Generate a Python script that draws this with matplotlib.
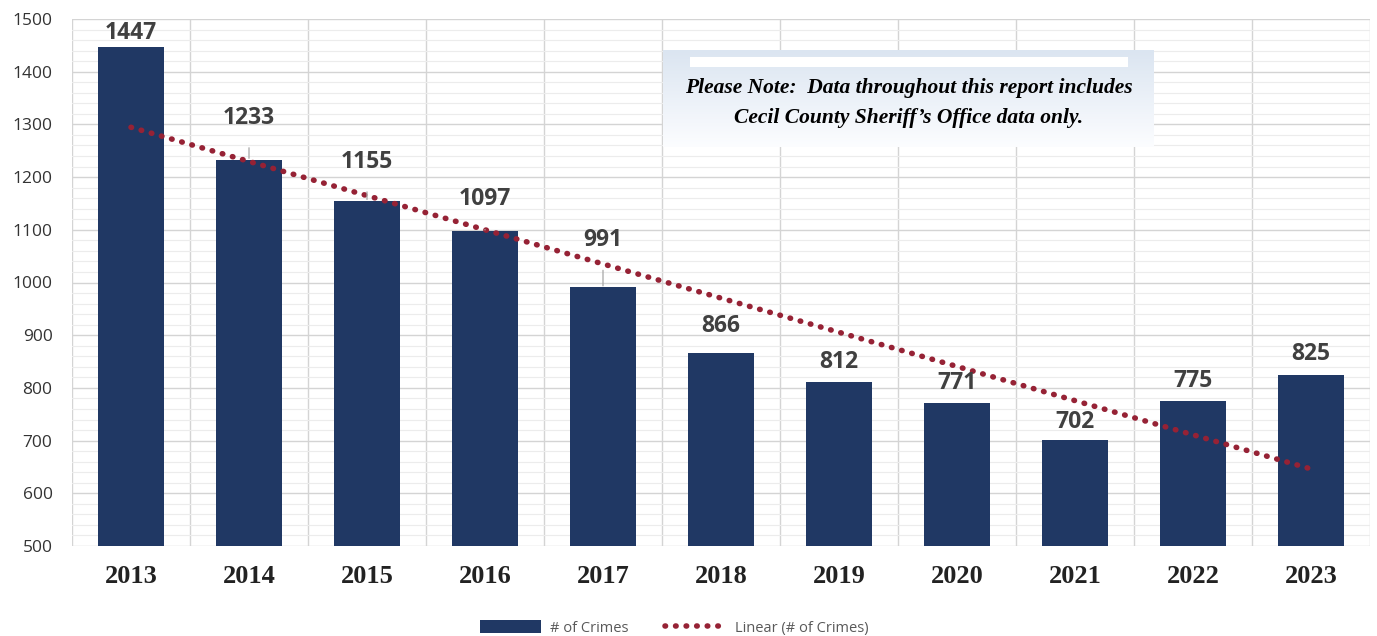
import numpy as np
import matplotlib.pyplot as plt
from matplotlib.patches import Rectangle

# values
years = ["2013", "2014", "2015", "2016", "2017", "2018", "2019", "2020", "2021", "2022", "2023"]
crimes = [1447, 1233, 1155, 1097, 991, 866, 812, 771, 702, 775, 825]
y_ticks = [500, 600, 700, 800, 900, 1000, 1100, 1200, 1300, 1400, 1500]

# how far each data label sits above its bar (pixels) - some were pushed up
label_lift = [14, 42, 39, 32, 47, 27, 20, 20, 18, 20, 21]

bar_color = "#203864"
trend_color = "#962235"
label_color = "#404040"

fig = plt.figure(figsize=(13.77, 6.36), dpi=100)
ax = fig.add_axes([72 / 1377, 1 - 546 / 636, 1298 / 1377, 527 / 636])

x = np.arange(len(years))
bars = ax.bar(x, crimes, width=0.56, color=bar_color, zorder=3, label="# of Crimes")

# linear trendline as Excel draws it
slope, intercept = np.polyfit(x, crimes, 1)
trend, = ax.plot(x, slope * x + intercept, color=trend_color, lw=4.0,
                 linestyle=(0, (0.1, 1.8)), dash_capstyle="round", zorder=4,
                 label="Linear (# of Crimes)")

for i, v in enumerate(crimes):
    lift = label_lift[i]
    arrow = None
    if lift > 30:
        arrow = dict(arrowstyle="-", color="#a6a6a6", lw=0.9, shrinkA=11, shrinkB=1)
    ax.annotate(str(v), xy=(i, v), xytext=(0, lift), textcoords="offset pixels",
                ha="center", va="center", fontsize=16.5, fontweight="bold",
                family="Open Sans", color=label_color, zorder=5, arrowprops=arrow)

ax.set_xlim(-0.5, len(years) - 0.5)
ax.set_ylim(500, 1500)
ax.set_yticks(y_ticks)
ax.set_yticks(np.arange(500, 1501, 20), minor=True)
ax.set_xticks(x)
ax.set_xticklabels(years, family="Liberation Serif", fontweight="bold",
                   fontsize=19, color="#222222")
for lab in ax.get_yticklabels():
    lab.set_family("Open Sans")
    lab.set_fontsize(12.5)
    lab.set_color("#333333")
ax.tick_params(axis="y", which="both", length=0, pad=14)
ax.tick_params(axis="x", length=0, pad=14)

# grid: major + minor horizontals, vertical lines between categories
ax.grid(axis="y", which="major", color="#d4d4d4", lw=1.0, zorder=0)
ax.grid(axis="y", which="minor", color="#ececec", lw=0.8, zorder=0)
for b in np.arange(-0.5, len(years), 1.0):
    ax.axvline(b, color="#d4d4d4", lw=1.0, zorder=0)
for s in ax.spines.values():
    s.set_visible(False)

# note box with a soft blue gradient
note = fig.add_axes([663 / 1377, 1 - 147 / 636, 491 / 1377, 97 / 636])
top = np.array([0xdb, 0xe5, 0xf1]) / 255
bot = np.array([0xfc, 0xfd, 0xff]) / 255
t = np.linspace(0, 1, 100)[:, None]
grad = (top * (1 - t) + bot * t)[:, None, :]
note.imshow(grad, aspect="auto", extent=[0, 1, 0, 1], origin="upper")
note.add_patch(Rectangle((27 / 491, 80 / 97), 438 / 491, 10 / 97,
                         facecolor="white", edgecolor="none"))
note.text(0.5, 0.605, "Please Note:  Data throughout this report includes",
          ha="center", va="center", family="Liberation Serif",
          fontstyle="italic", fontweight="bold", fontsize=15.5, color="black")
note.text(0.5, 0.295, "Cecil County Sheriff\u2019s Office data only.",
          ha="center", va="center", family="Liberation Serif",
          fontstyle="italic", fontweight="bold", fontsize=15.5, color="black")
note.set_xlim(0, 1)
note.set_ylim(0, 1)
note.axis("off")

leg = fig.legend([bars, trend], ["# of Crimes", "Linear (# of Crimes)"], loc="center",
                 bbox_to_anchor=(674 / 1377, 1 - 628 / 636),
                 ncol=2, frameon=False, prop={"family": "Open Sans", "size": 10.5},
                 handlelength=4.2, handleheight=0.9, columnspacing=2.5, handletextpad=0.6)
for txt in leg.get_texts():
    txt.set_color("#595959")

fig.savefig("out.png", dpi=100)
